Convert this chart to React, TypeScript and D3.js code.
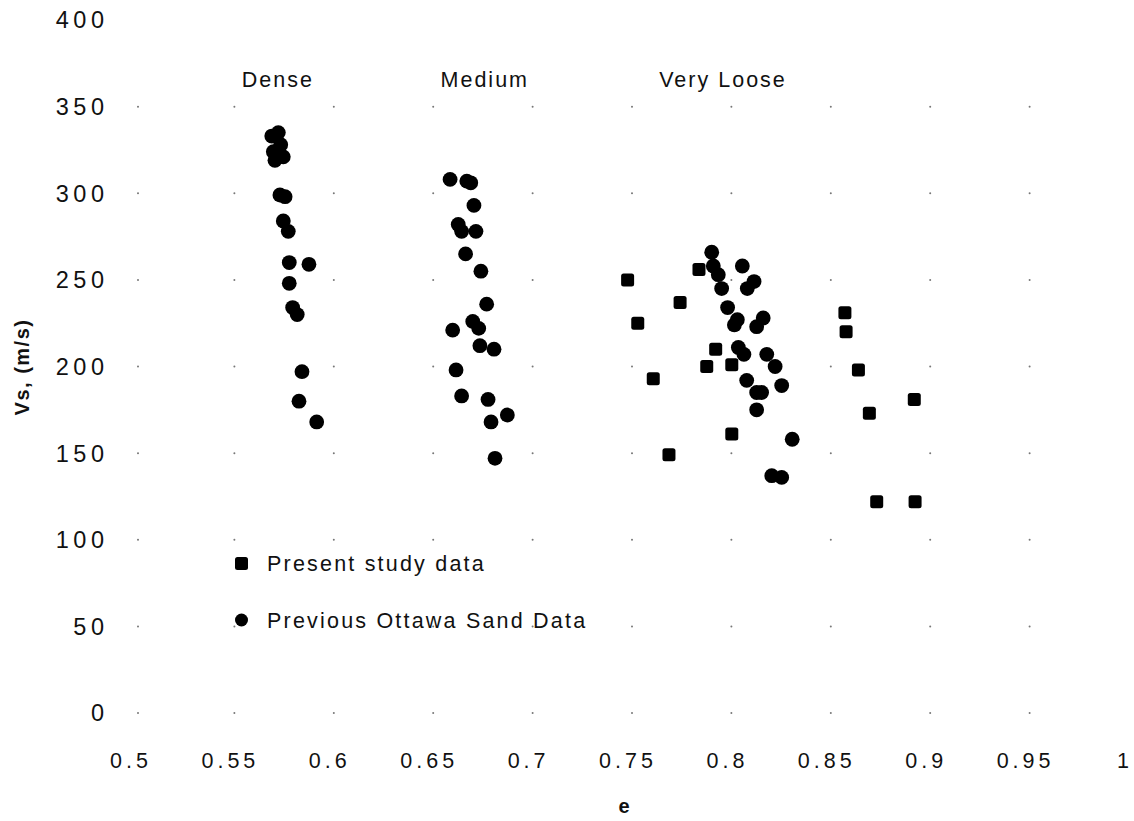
import React from "react";
import * as d3 from "d3";

// Present study data (squares)
const presentE = [0.7488, 0.7847, 0.7752, 0.7539, 0.7931, 0.7886, 0.8012, 0.7617, 0.8012, 0.7696, 0.8581, 0.8587, 0.8649, 0.893, 0.8704, 0.8741, 0.8934];
const presentVs = [250, 256, 237, 225, 210, 200, 201, 193, 161, 149, 231, 220, 198, 181, 173, 122, 122];

// Previous Ottawa Sand data (circles)
const previousE = [
  0.5731, 0.5698, 0.5743, 0.5706, 0.5756, 0.5714, 0.5739, 0.5765, 0.5756, 0.5781, 0.5786, 0.5885, 0.5786, 0.5803, 0.5826, 0.585, 0.5835, 0.5924,
  0.6595, 0.6679, 0.6699, 0.6715, 0.6636, 0.6653, 0.6725, 0.6673, 0.675, 0.6779, 0.6709, 0.6739, 0.6608, 0.6745, 0.6816, 0.6625, 0.6653, 0.6786, 0.6883, 0.6801, 0.6821,
  0.7911, 0.7919, 0.7944, 0.8065, 0.809, 0.8124, 0.7961, 0.7991, 0.8025, 0.804, 0.8137, 0.817, 0.8045, 0.8073, 0.8188, 0.823, 0.8087, 0.8137, 0.8162, 0.8137, 0.8263, 0.8316, 0.8213, 0.8263,
];
const previousVs = [
  335, 333, 328, 324, 321, 319, 299, 298, 284, 278, 260, 259, 248, 234, 230, 197, 180, 168,
  308, 307, 306, 293, 282, 278, 278, 265, 255, 236, 226, 222, 221, 212, 210, 198, 183, 181, 172, 168, 147,
  266, 258, 253, 258, 245, 249, 245, 234, 224, 227, 223, 228, 211, 207, 207, 200, 192, 185, 185, 175, 189, 158, 137, 136,
];

const xTicks = [0.5, 0.55, 0.6, 0.65, 0.7, 0.75, 0.8, 0.85, 0.9, 0.95, 1];
const yTicks = [0, 50, 100, 150, 200, 250, 300, 350, 400];
const categoryLabels = ["Dense", "Medium", "Very Loose"];
const categoryE = [0.5547, 0.6547, 0.7647];
const legendLabels = ["Present study data", "Previous Ottawa Sand Data"];

const FONT = "'Liberation Sans', Arial, Helvetica, sans-serif";

export default function App() {
  const W = 1134, H = 821;
  const x = d3.scaleLinear().domain([0.5, 1]).range([133, 1127]);
  const y = d3.scaleLinear().domain([0, 400]).range([713, 20]);

  const gridX = xTicks.filter((t) => t < 0.999);
  const gridY = yTicks.filter((t) => t < 399);

  const sq = 13;
  const r = 7.4;

  return (
    <svg
      width={W}
      height={H}
      style={{ position: "absolute", left: 0, top: 0, background: "#fff" }}
      fontFamily={FONT}
    >
      <rect width={W} height={H} fill="#fff" />
      {/* sparse dotted grid */}
      <g fill="#777">
        {gridX.map((gx) =>
          gridY.map((gy) => (
            <circle key={`g${gx}-${gy}`} cx={x(gx) + (gx < 0.51 ? 5 : 2)} cy={y(gy)} r={1} />
          ))
        )}
      </g>

      {/* y tick labels */}
      <g fontSize={23.5} letterSpacing={4.5} fill="#111">
        {yTicks.map((t) => (
          <text key={`yt${t}`} x={108.5} y={y(t)} dy="0.36em" textAnchor="end">
            {t}
          </text>
        ))}
      </g>

      {/* x tick labels */}
      <g fontSize={21.5} letterSpacing={4} fill="#111">
        {xTicks.map((t) => (
          <text key={`xt${t}`} x={x(t) - 2} y={768} textAnchor="middle">
            {String(t)}
          </text>
        ))}
      </g>

      {/* axis titles */}
      <text x={624} y={813} textAnchor="middle" fontSize={20} fontWeight="bold" fill="#111">
        e
      </text>
      <text
        transform={`translate(29,367) rotate(-90)`}
        textAnchor="middle"
        fontSize={20}
        fontWeight="bold"
        letterSpacing={1.5}
        fill="#111"
      >
        Vs, (m/s)
      </text>

      {/* category labels */}
      <g fontSize={21.5} letterSpacing={2} fill="#111">
        {categoryLabels.map((c, i) => (
          <text key={c} x={x(categoryE[i])} y={87}>
            {c}
          </text>
        ))}
      </g>

      {/* previous data: circles */}
      <g fill="#000">
        {previousE.map((e, i) => (
          <circle key={`p${i}`} cx={x(e)} cy={y(previousVs[i])} r={r} />
        ))}
      </g>

      {/* present study: squares */}
      <g fill="#000">
        {presentE.map((e, i) => (
          <rect
            key={`s${i}`}
            x={x(e) - sq / 2}
            y={y(presentVs[i]) - sq / 2}
            width={sq}
            height={sq}
            rx={2.5}
          />
        ))}
      </g>

      {/* legend */}
      <g fill="#000">
        <rect x={241.5 - 6.5} y={563.5 - 6.5} width={13} height={13} rx={2.5} />
        <circle cx={241.5} cy={620} r={6.5} />
      </g>
      <g fontSize={21.5} letterSpacing={2.2} fill="#111">
        <text x={267} y={571}>{legendLabels[0]}</text>
        <text x={267} y={628}>{legendLabels[1]}</text>
      </g>
    </svg>
  );
}
